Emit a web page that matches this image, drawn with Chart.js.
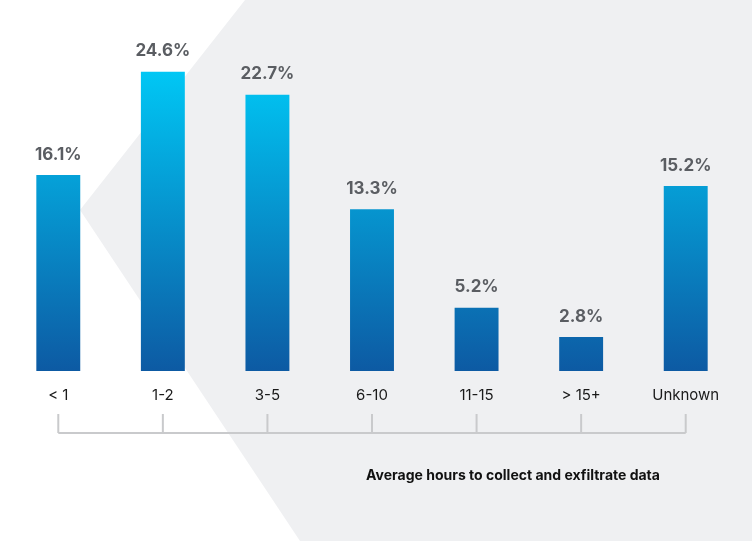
<!DOCTYPE html>
<html><head><meta charset="utf-8">
<script src="https://cdn.jsdelivr.net/npm/chart.js@4/dist/chart.umd.min.js"></script>
<style>html,body{margin:0;padding:0;background:#fff}#w{width:752px;height:541px}</style>
</head><body><div id="w"><canvas id="c"></canvas></div>
<script>
const categories = ['< 1','1-2','3-5','6-10','11-15','> 15+','Unknown'];
const values = [16.1,24.6,22.7,13.3,5.2,2.8,15.2];
const valueLabels = ['16.1%','24.6%','22.7%','13.3%','5.2%','2.8%','15.2%'];
const axisTitle = 'Average hours to collect and exfiltrate data';

const deco = {
  id:'deco',
  beforeDraw(chart){
    const ctx=chart.ctx;
    ctx.save();
    ctx.fillStyle='#eff0f2';
    ctx.beginPath();
    ctx.moveTo(245,0);ctx.lineTo(752,0);ctx.lineTo(752,541);ctx.lineTo(300,541);ctx.lineTo(80,210);ctx.closePath();ctx.fill();
    ctx.restore();
  },
  afterDraw(chart){
    const ctx=chart.ctx, x=chart.scales.x, y=chart.scales.y;
    ctx.save();
    ctx.textAlign='center';
    ctx.fillStyle='#5a5d62';
    ctx.font='bold 17px Inter, "Liberation Sans", sans-serif';
    const meta=chart.getDatasetMeta(0);
    meta.data.forEach((b,i)=>{ctx.textBaseline='bottom';ctx.fillText(valueLabels[i],b.x,b.y-12);});
    ctx.fillStyle='#1a1a1a';
    ctx.font='15px Inter, "Liberation Sans", sans-serif';
    ctx.textBaseline='middle';
    categories.forEach((c,i)=>ctx.fillText(c,x.getPixelForValue(i),395));
    ctx.strokeStyle='#c9cacc';ctx.lineWidth=2;
    const x0=x.getPixelForValue(0), x1=x.getPixelForValue(categories.length-1);
    ctx.beginPath();ctx.moveTo(x0,433);ctx.lineTo(x1,433);
    categories.forEach((c,i)=>{const px=x.getPixelForValue(i);ctx.moveTo(px,433);ctx.lineTo(px,414);});
    ctx.stroke();
    ctx.fillStyle='#111';
    ctx.font='bold 14px Inter, "Liberation Sans", sans-serif';
    ctx.fillText(axisTitle,513,476);
    ctx.restore();
  }
};

new Chart(document.getElementById('c'),{
  type:'bar',
  data:{labels:categories,datasets:[{data:values,
    backgroundColor(ctx){
      const a=ctx.chart.chartArea; if(!a) return '#0a8fd0';
      const g=ctx.chart.ctx.createLinearGradient(0,a.top+60,0,a.bottom);
      g.addColorStop(0,'#00c9f6');g.addColorStop(1,'#0d5aa3');return g;
    },
    barPercentage:0.42,categoryPercentage:1}]},
  options:{responsive:true,maintainAspectRatio:false,animation:false,
    layout:{padding:{left:6,right:14,top:6,bottom:170}},
    plugins:{legend:{display:false},tooltip:{enabled:false}},
    scales:{x:{display:false},y:{display:false,min:0,max:30}}},
  plugins:[deco]
});
</script></body></html>
